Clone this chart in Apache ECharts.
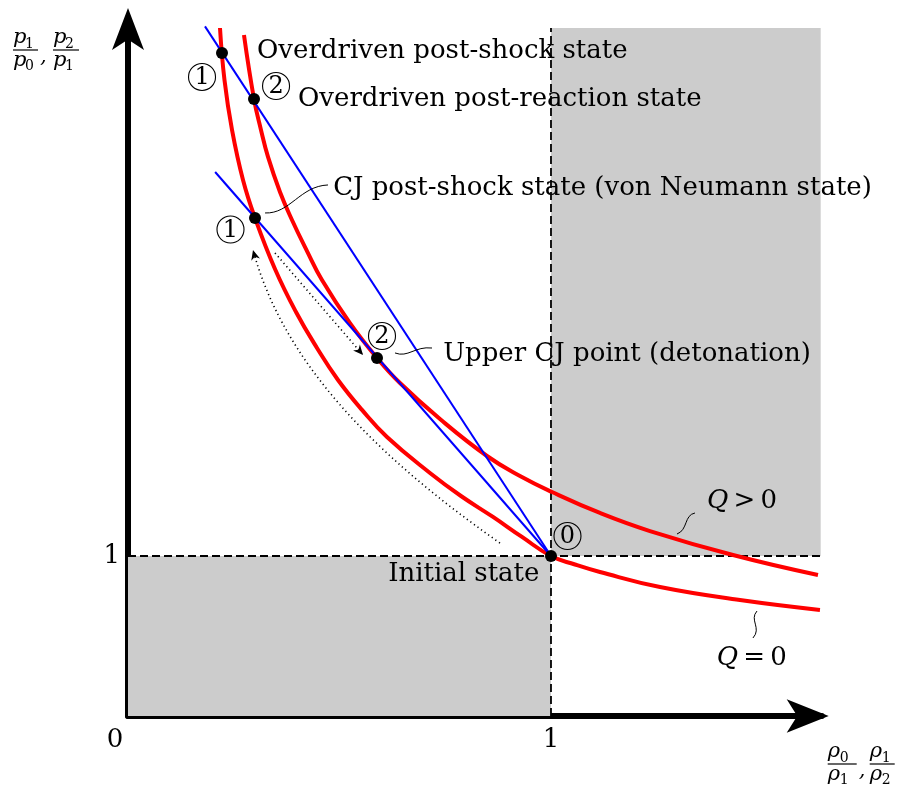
<!DOCTYPE html>
<html>
<head>
<meta charset="utf-8">
<script src="https://cdn.jsdelivr.net/npm/echarts@6/dist/echarts.min.js"></script>
<style>
  html, body { margin: 0; padding: 0; background: #fff; }
  #chart { width: 900px; height: 794px; }
</style>
</head>
<body>
<div id="chart"></div>
<script>
// Specific volume ratio (rho0/rho) against pressure ratio (p/p0).
// Hugoniot without heat release (Q = 0), passing through the initial state.
const hugoniotQ0 = [
  [0.2175, 4.300], [0.2281, 3.975], [0.2459, 3.663], [0.2719, 3.350],
  [0.3002, 3.113], [0.3475, 2.794], [0.3972, 2.525], [0.4468, 2.300],
  [0.4965, 2.100], [0.5532, 1.913], [0.6123, 1.744], [0.7139, 1.519],
  [0.7872, 1.375], [0.8629, 1.244], [0.9314, 1.119], [1.0000, 1.000],
  [1.0567, 0.947], [1.1158, 0.900], [1.2577, 0.806], [1.4468, 0.725],
  [1.6359, 0.663]
];
// Hugoniot with heat release (Q > 0).
const hugoniotQpos = [
  [0.2742, 4.256], [0.2979, 3.856], [0.3144, 3.663], [0.3310, 3.494],
  [0.3593, 3.275], [0.3877, 3.100], [0.4232, 2.906], [0.4586, 2.725],
  [0.5248, 2.456], [0.5887, 2.238], [0.6430, 2.081], [0.7376, 1.856],
  [0.8487, 1.625], [0.9267, 1.500], [1.0024, 1.400], [1.1158, 1.269],
  [1.2340, 1.156], [1.4303, 1.006], [1.6312, 0.881]
];
// Rayleigh lines through the initial state.
const rayleighOverdriven = [[0.182, 4.31], [1, 1]];
const rayleighCJ = [[0.206, 3.40], [1, 1]];
// Marked states: overdriven shock, overdriven reaction, von Neumann, CJ, initial.
const stateNames = ['overdrivenShock', 'overdrivenReaction', 'vonNeumann', 'upperCJ', 'initial'];
const stateValues = [[0.2222, 4.144], [0.2979, 3.856], [0.3002, 3.113], [0.5887, 2.238], [1, 1]];
// Reference lines at unit ratios and shaded quadrants.
const unitLineX = [[0, 1], [1.64, 1]];
const unitLineY = [[1, 0], [1, 4.3]];
const shadeLow = [[0, 0], [1, 1]];
const shadeHigh = [[1, 1], [1.6376, 4.3]];
const xTicks = [1];
const yTicks = [1];

const SERIF = '"DejaVu Serif", "Liberation Serif", serif';
const chart = echarts.init(document.getElementById('chart'), null, { renderer: 'canvas' });

const axisLineStyle = { color: '#000', width: 6 };

chart.setOption({
  animation: false,
  backgroundColor: '#fff',
  grid: { left: 128, right: 78.3, top: 28, bottom: 78, containLabel: false },
  xAxis: {
    type: 'value', min: 0, max: 1.64, interval: 1,
    axisLine: { show: true, onZero: false, symbol: ['none', 'arrow'], symbolSize: [25, 42], symbolOffset: [0, 7], lineStyle: axisLineStyle },
    axisTick: { show: false }, splitLine: { show: false },
    axisLabel: { customValues: xTicks, color: '#000', fontFamily: SERIF, fontSize: 26, margin: 11 }
  },
  yAxis: {
    type: 'value', min: 0, max: 4.3, interval: 1,
    axisLine: { show: true, onZero: false, symbol: ['none', 'arrow'], symbolSize: [24, 42], symbolOffset: [0, 20], lineStyle: axisLineStyle },
    axisTick: { show: false }, splitLine: { show: false },
    axisLabel: { customValues: yTicks, color: '#000', fontFamily: SERIF, fontSize: 26, margin: 8 }
  },
  series: [
    {
      type: 'line', data: unitLineX, symbol: 'none', silent: true, z: 2,
      lineStyle: { color: '#000', width: 1.8, type: [8, 4] },
      markArea: {
        silent: true,
        itemStyle: { color: '#cccccc' },
        data: [
          [{ coord: shadeLow[0] }, { coord: shadeLow[1] }],
          [{ coord: shadeHigh[0] }, { coord: shadeHigh[1] }]
        ]
      }
    },
    {
      type: 'line', data: unitLineY, symbol: 'none', silent: true, z: 2,
      lineStyle: { color: '#000', width: 1.8, type: [8, 4] }
    },
    {
      name: 'Q = 0', type: 'line', data: hugoniotQ0, smooth: 0.45, symbol: 'none', clip: false, z: 3,
      lineStyle: { color: '#ff0000', width: 4 }
    },
    {
      name: 'Q > 0', type: 'line', data: hugoniotQpos, smooth: 0.45, symbol: 'none', clip: false, z: 3,
      lineStyle: { color: '#ff0000', width: 4 }
    },
    {
      type: 'line', data: rayleighOverdriven, symbol: 'none', clip: false, z: 4,
      lineStyle: { color: '#0000ff', width: 2 }
    },
    {
      type: 'line', data: rayleighCJ, symbol: 'none', clip: false, z: 4,
      lineStyle: { color: '#0000ff', width: 2 }
    },
    {
      type: 'scatter', data: stateValues.map((v, i) => ({ name: stateNames[i], value: v })),
      symbol: 'circle', symbolSize: 12, clip: false, z: 5,
      itemStyle: { color: '#000', opacity: 1 }
    }
  ]
});

// ---- annotations, anchored in data space ----
const P = (x, y) => chart.convertToPixel({ gridIndex: 0 }, [x, y]);
const FS = 26;
const g = [];

function label(text, x, y, opts) {
  const p = P(x, y);
  g.push({
    type: 'text', z: 10, silent: true,
    style: Object.assign({
      text: text, x: p[0], y: p[1] - 0.35 * FS,
      fill: '#000', font: FS + 'px ' + SERIF, align: 'left', verticalAlign: 'middle'
    }, opts || {})
  });
}
function circled(digit, x, y) {
  const p = P(x, y);
  g.push({ type: 'circle', z: 10, silent: true, shape: { cx: p[0], cy: p[1], r: 13.5 },
    style: { fill: 'none', stroke: '#000', lineWidth: 1.1 } });
  g.push({ type: 'text', z: 10, silent: true,
    style: { text: digit, x: p[0], y: p[1] + 1, fill: '#000', font: '24px ' + SERIF, align: 'center', verticalAlign: 'middle' } });
}
function leader(a, c1, c2, b) {
  const pa = P(a[0], a[1]), p1 = P(c1[0], c1[1]), p2 = P(c2[0], c2[1]), pb = P(b[0], b[1]);
  g.push({ type: 'bezierCurve', z: 10, silent: true,
    shape: { x1: pa[0], y1: pa[1], cpx1: p1[0], cpy1: p1[1], cpx2: p2[0], cpy2: p2[1], x2: pb[0], y2: pb[1] },
    style: { stroke: '#000', lineWidth: 1, fill: 'none' } });
}
function arrowHead(tip, from, size) {
  const dx = tip[0] - from[0], dy = tip[1] - from[1];
  const len = Math.hypot(dx, dy), ux = dx / len, uy = dy / len;
  const bx = tip[0] - ux * size, by = tip[1] - uy * size;
  const nx = -uy * size * 0.45, ny = ux * size * 0.45;
  const mx = tip[0] - ux * size * 0.7, my = tip[1] - uy * size * 0.7;
  g.push({ type: 'polygon', z: 10, silent: true,
    shape: { points: [tip, [bx + nx, by + ny], [mx, my], [bx - nx, by - ny]] },
    style: { fill: '#000' } });
}
const dotted = { stroke: '#000', lineWidth: 1.6, lineDash: [1.2, 3.2], fill: 'none' };
// straight dotted arrow
function dottedLine(a, b) {
  const pa = P(a[0], a[1]), pb = P(b[0], b[1]);
  g.push({ type: 'line', z: 10, silent: true, shape: { x1: pa[0], y1: pa[1], x2: pb[0], y2: pb[1] }, style: dotted });
  arrowHead(pb, pa, 10);
}
// curved dotted arrow (cubic)
function dottedCurve(a, c1, c2, b) {
  const pa = P(a[0], a[1]), p1 = P(c1[0], c1[1]), p2 = P(c2[0], c2[1]), pb = P(b[0], b[1]);
  g.push({ type: 'bezierCurve', z: 10, silent: true,
    shape: { x1: pa[0], y1: pa[1], cpx1: p1[0], cpy1: p1[1], cpx2: p2[0], cpy2: p2[1], x2: pb[0], y2: pb[1] },
    style: dotted });
  arrowHead(pb, p2, 10);
}

// state labels
const TH = '\u2009';
const italicQ = { rich: { q: { font: 'italic ' + FS + 'px ' + SERIF } } };
label('Overdriven post-shock state', 0.305, 4.10);
label('Overdriven post-reaction state', 0.402, 3.80);
label('CJ post-shock state (von Neumann state)', 0.485, 3.244);
label('Upper CJ point (detonation)', 0.745, 2.206);
label('Initial state', 0.615, 0.831);
label('{q|Q}' + TH + '>' + TH + '0', 1.369, 1.2875, italicQ);
label('{q|Q}' + TH + '=' + TH + '0', 1.392, 0.306, italicQ);

circled('1', 0.175, 3.994);
circled('2', 0.350, 3.9375);
circled('1', 0.2423, 3.0406);
circled('2', 0.6005, 2.375);
circled('0', 1.039, 1.125);

leader([0.324, 3.144], [0.383, 3.1375], [0.4066, 3.3125], [0.4728, 3.319]);
leader([0.6312, 2.269], [0.662, 2.2375], [0.6785, 2.3125], [0.7187, 2.300]);
leader([1.2979, 1.1375], [1.3239, 1.1625], [1.3144, 1.2563], [1.3404, 1.2688]);
leader([1.487, 0.656], [1.468, 0.600], [1.4988, 0.550], [1.4775, 0.4875]);

// von Neumann state to CJ point along the Rayleigh line, and back along the Q = 0 Hugoniot
dottedLine([0.3475, 2.894], [0.5556, 2.256]);
dottedCurve([0.8794, 1.081], [0.5721, 1.650], [0.3664, 2.225], [0.2955, 2.9125]);

// origin label
const o = P(0, 0);
g.push({ type: 'text', z: 10, silent: true,
  style: { text: '0', x: o[0] - 13, y: o[1] + 24, fill: '#000', font: FS + 'px ' + SERIF, align: 'center', verticalAlign: 'middle' } });

// axis titles as stacked fractions
function fraction(sym, num, den, x, y, w) {
  const it = 'italic 21px ' + SERIF, sub = '14px ' + SERIF;
  g.push({ type: 'text', z: 10, silent: true, style: { text: sym, x: x, y: y - 12, font: it, fill: '#000', verticalAlign: 'middle' } });
  g.push({ type: 'text', z: 10, silent: true, style: { text: num, x: x + 12, y: y - 6, font: sub, fill: '#000', verticalAlign: 'middle' } });
  g.push({ type: 'line', z: 10, silent: true, shape: { x1: x, y1: y, x2: x + w, y2: y }, style: { stroke: '#000', lineWidth: 1.2 } });
  g.push({ type: 'text', z: 10, silent: true, style: { text: sym, x: x, y: y + 11, font: it, fill: '#000', verticalAlign: 'middle' } });
  g.push({ type: 'text', z: 10, silent: true, style: { text: den, x: x + 12, y: y + 16, font: sub, fill: '#000', verticalAlign: 'middle' } });
}
const yTop = P(0, 4.3);
fraction('p', '1', '0', yTop[0] - 115, yTop[1] + 22, 25);
g.push({ type: 'text', z: 10, silent: true, style: { text: ',', x: yTop[0] - 88, y: yTop[1] + 29, font: 'italic 21px ' + SERIF, fill: '#000', verticalAlign: 'middle' } });
fraction('p', '2', '1', yTop[0] - 75, yTop[1] + 22, 26);

const xEnd = P(1.64, 0);
fraction('ρ', '0', '1', xEnd[0] + 6, xEnd[1] + 48, 29);
g.push({ type: 'text', z: 10, silent: true, style: { text: ',', x: xEnd[0] + 37, y: xEnd[1] + 55, font: 'italic 21px ' + SERIF, fill: '#000', verticalAlign: 'middle' } });
fraction('ρ', '1', '2', xEnd[0] + 48, xEnd[1] + 48, 25);

chart.setOption({ graphic: g });
</script>
</body>
</html>
